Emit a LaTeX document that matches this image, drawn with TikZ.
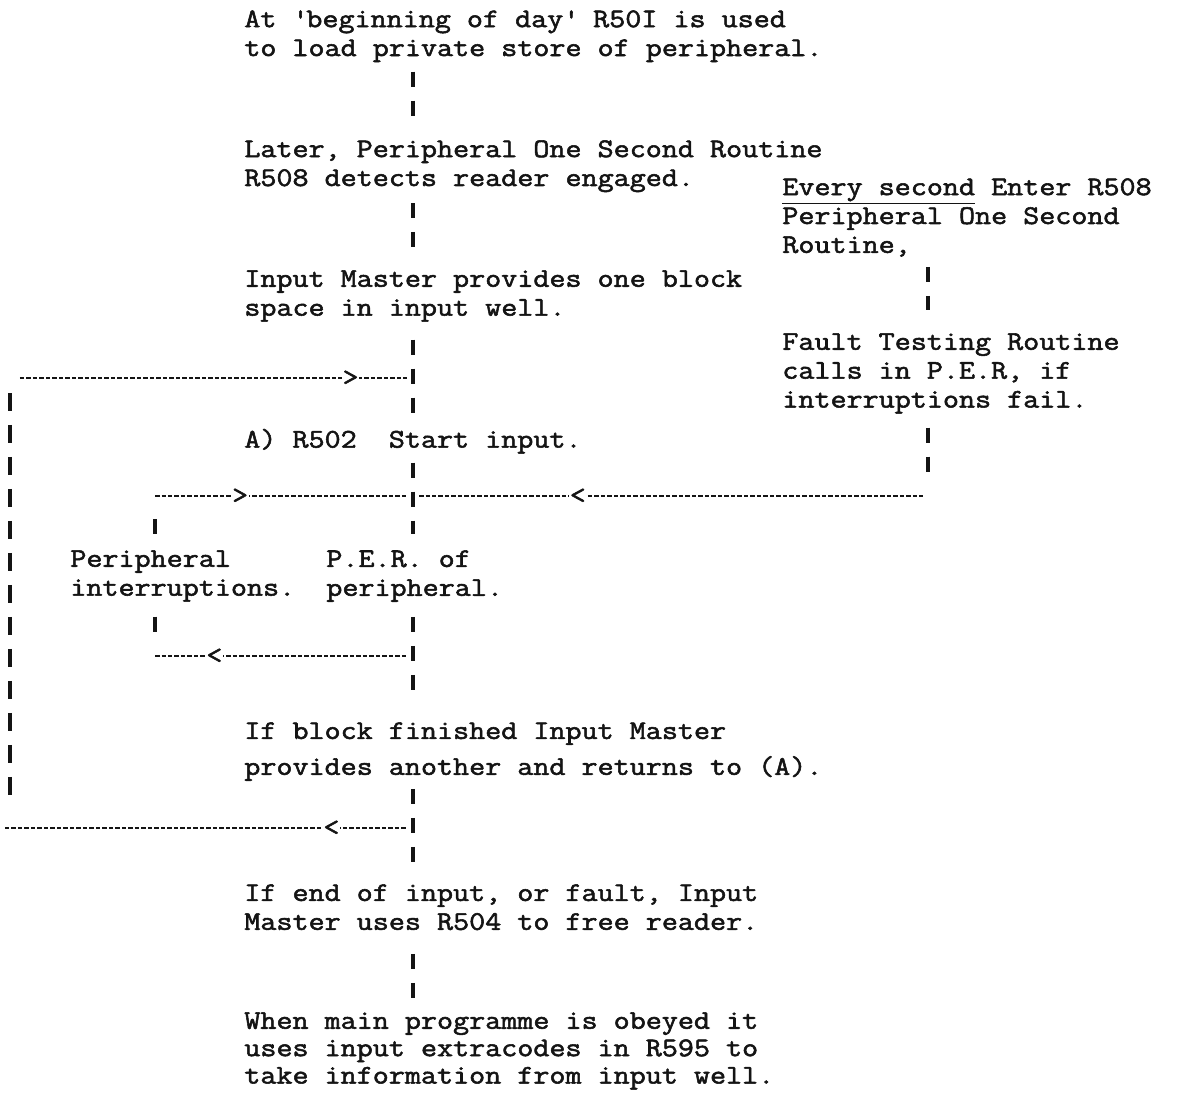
\documentclass[tikz,border=0pt]{standalone}
\usepackage{fontspec}
\newfontfamily\typer[FakeStretch=1.16, FakeBold=2]{Latin Modern Mono}
\usetikzlibrary{positioning}
\definecolor{inkBlack}{gray}{0.08}

\tikzset{
  txt/.style={font=\typer\fontsize{15.3}{16.44}\selectfont, align=left, anchor=north west,
    inner sep=0, text=inkBlack, execute at begin node=\strut, execute at end node=\strut},
  bar/.style={line width=2pt, inkBlack, dash pattern=on 0.3cm off 0.28cm},
  rule/.style={line width=1.2pt, inkBlack, dash pattern=on 0.09cm off 0.04cm},
  tip/.style={font=\typer\fontsize{15}{15}\selectfont, fill=white, inner sep=0.6pt, text=inkBlack},
}

\begin{document}
\begin{tikzpicture}[x=0.02cm, y=-0.02cm]
    \useasboundingbox[fill=white] (0,0) rectangle (1193,1092);
    \coordinate (mx) at (413,0);
    \coordinate (rx) at (928,0);
    \coordinate (ix) at (155,0);

    % Main column
    \node[txt] (load) at (244,10) {At \textquotesingle beginning of day\textquotesingle\ R50I is used\\to load private store of peripheral.};
    \node[txt] (detect) at (244,140) {Later, Peripheral One Second Routine\\R508 detects reader engaged.};
    \node[txt] (space) at (244,270) {Input Master provides one block\\space in input well.};
    \node[txt] (startin) at (244,427) {A) R502\ \ Start input.};
    \node[txt] (per) at (326,550) {P.E.R. of\\peripheral.};
    \node[txt] (intr) at (70,550) {Peripheral\\interruptions.};
    \node[txt] (block) at (244,722) {If block finished Input Master\\[0.14cm]provides another and returns to (A).};
    \node[txt] (free) at (244,884) {If end of input, or fault, Input\\Master uses R504 to free reader.};
    \node[txt] (main) at (244,1012) {When main programme is obeyed it\\[-0.03cm]uses input extracodes in R595 to\\[-0.03cm]take information from input well.};

    % Right column
    \node[txt] (every) at (782,178) {\underline{Every second} Enter R508\\Peripheral One Second\\Routine,};
    \node[txt] (fault) at (782,333) {Fault Testing Routine\\calls in P.E.R, if\\interruptions fail.};

    % Junctions
    \coordinate (jA) at (413,378);
    \coordinate (jB) at (413,496);
    \coordinate (jC) at (413,656);
    \coordinate (jD) at (413,828);
    \coordinate (loopT) at (10,378);
    \coordinate (loopB) at (10,828);
    \coordinate (lB) at (155,496);
    \coordinate (lC) at (155,656);
    \coordinate (rB) at (928,496);

    % Vertical bars
    \draw[bar, shorten <=0.13cm, shorten >=0.42cm] (load.south -| mx) -- (detect.north -| mx);
    \draw[bar, shorten <=0.16cm, shorten >=0.4cm] (detect.south -| mx) -- (space.north -| mx);
    \draw[bar, shorten <=0.3cm, shorten >=0.22cm] (space.south -| mx) -- (startin.north -| mx);
    \draw[bar, shorten <=0.12cm, shorten >=0.32cm] (startin.south -| mx) -- (per.north -| mx);
    \draw[bar, shorten <=0.24cm, shorten >=0.56cm] (per.south -| mx) -- (block.north -| mx);
    \draw[bar, shorten <=0.1cm, shorten >=0.32cm] (block.south -| mx) -- (free.north -| mx);
    \draw[bar, shorten <=0.3cm, shorten >=0.2cm] (free.south -| mx) -- (main.north -| mx);
    \draw[bar, shorten <=0.1cm, shorten >=0.46cm] (every.south -| rx) -- (fault.north -| rx);
    \draw[bar, shorten <=0.22cm, shorten >=0.44cm] (fault.south -| rx) -- (rB);
    \draw[bar, shorten <=0.46cm, shorten >=0.3cm] (lB) -- (intr.north -| ix);
    \draw[bar, shorten <=0.24cm, shorten >=0.42cm] (intr.south -| ix) -- (lC);
    \draw[bar, dash pattern=on 0.36cm off 0.28cm, shorten <=0.3cm, shorten >=0.62cm] (loopT) -- (loopB);

    % Dashed rules
    \draw[rule, shorten <=0.2cm, shorten >=0.12cm] (loopT) -- node[tip, pos=0.845] {>} (jA);
    \draw[rule, shorten >=0.12cm] (lB) -- node[tip, pos=0.33] {>} (jB);
    \draw[rule, shorten <=0.12cm, shorten >=0.1cm] (jB) -- node[tip, pos=0.32] {<} (rB);
    \draw[rule, shorten >=0.12cm] (lC) -- node[tip, pos=0.23] {<} (jC);
    \draw[rule, shorten >=0.12cm] ([xshift=-0.1cm]loopB) -- node[tip, pos=0.8] {<} (jD);
\end{tikzpicture}
\end{document}
